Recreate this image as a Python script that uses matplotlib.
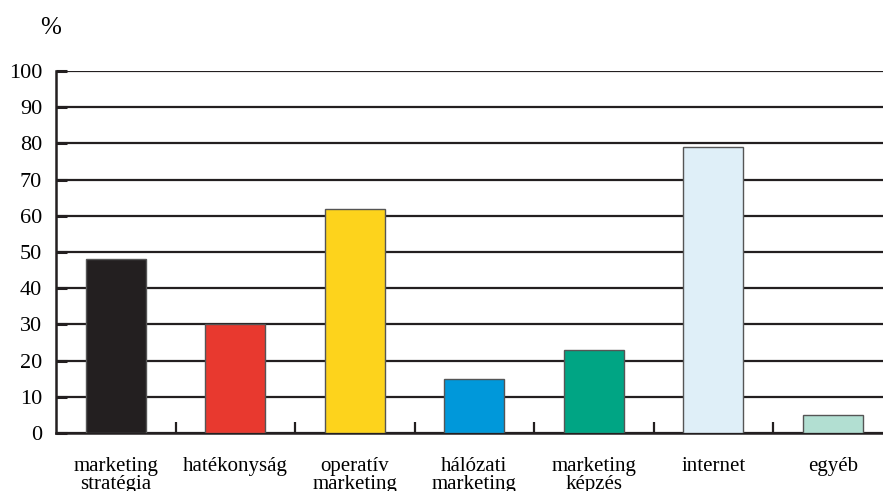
import matplotlib.pyplot as plt
import numpy as np

# felmérés: mire van szükség (%)
categories = ['marketing\nstratégia', 'hatékonyság', 'operatív\nmarketing',
              'hálózati\nmarketing', 'marketing\nképzés', 'internet', 'egyéb']
values = [48, 30, 62, 15, 23, 79, 5]
colors = ['#231f20', '#e8392f', '#fdd31c', '#0098da', '#00a584', '#dfeff8', '#b2dfd2']
yticks = list(range(0, 101, 10))

plt.rcParams['font.family'] = ['Liberation Serif', 'DejaVu Serif']

fig = plt.figure(figsize=(8.83, 4.91), dpi=100)
ax = fig.add_axes([56/883, 58/491, 1 - 56/883, 362/491])

x = np.arange(len(categories))
ax.bar(x, values, width=0.5, color=colors, edgecolor='#555555', linewidth=1.0, zorder=3)

ax.set_xlim(-0.5, -0.5 + 827/119.5)
ax.set_ylim(0, 100)
ax.set_yticks(yticks)
ax.set_yticklabels([str(t) for t in yticks], fontsize=16)
ax.yaxis.grid(True, color='#231f20', linewidth=1.6)
ax.set_axisbelow(True)

ax.set_xticks(x)
ax.set_xticklabels(categories, fontsize=15, linespacing=0.95)
ax.set_xticks(np.arange(0.5, len(categories) - 0.5), minor=True)
ax.tick_params(axis='x', which='major', length=0, pad=17)
ax.tick_params(axis='x', which='minor', direction='in', length=8, width=1.6, color='#231f20')
ax.tick_params(axis='y', direction='in', length=8, width=2.2, color='#231f20', pad=10)

for s in ['top', 'right']:
    ax.spines[s].set_visible(False)
for s in ['left', 'bottom']:
    ax.spines[s].set_linewidth(1.8)
    ax.spines[s].set_color('#231f20')

fig.text(40/883, 1 - 28/491, '%', fontsize=18, va='center', ha='left')

fig.savefig('out.png', dpi=100)
